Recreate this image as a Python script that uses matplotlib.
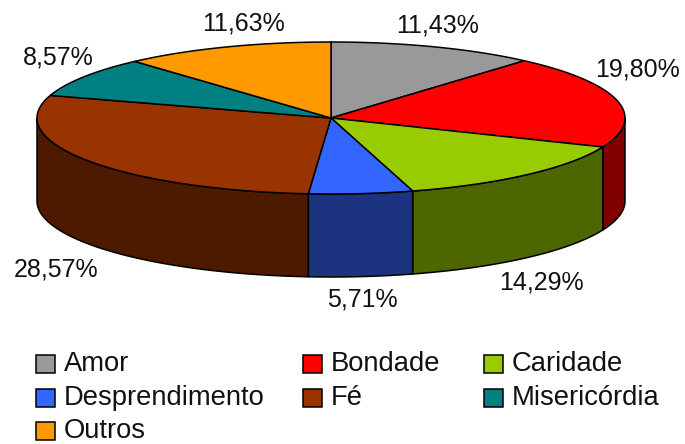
import numpy as np
import matplotlib
matplotlib.use('Agg')
from matplotlib import pyplot as plt
from matplotlib.patches import Polygon, Rectangle

plt.rcParams['font.family'] = ['Liberation Sans', 'DejaVu Sans']

# Data
categorias = ['Amor', 'Bondade', 'Caridade', 'Desprendimento', 'Fé', 'Misericórdia', 'Outros']
valores = [11.43, 19.80, 14.29, 5.71, 28.57, 8.57, 11.63]
rotulos = ['11,43%', '19,80%', '14,29%', '5,71%', '28,57%', '8,57%', '11,63%']
cores = ['#999999', '#FF0000', '#99CC00', '#3366FF', '#993300', '#008080', '#FF9900']
cores_lado = ['#4D4D4D', '#800000', '#4D6600', '#1C3380', '#4D1A00', '#004040', '#804D00']

# Geometry of the pie, in pixels
cx, cy = 331, 118
rx, ry = 294, 76
prof = 83

fig = plt.figure(figsize=(6.85, 4.44), dpi=100)
ax = fig.add_axes([0, 0, 1, 1])
ax.set_xlim(0, 685)
ax.set_ylim(444, 0)
ax.axis('off')


def arco(a0, a1, dy=0):
    t = np.radians(np.linspace(a0, a1, 120))
    return np.column_stack([cx + rx * np.sin(t), cy + dy - ry * np.cos(t)])


limites = np.concatenate([[0], np.cumsum(valores)]) / sum(valores) * 360

# Sides (only the front half of the rim is visible)
for i in range(len(valores)):
    a0, a1 = max(limites[i], 90), min(limites[i + 1], 270)
    if a1 <= a0:
        continue
    pts = np.vstack([arco(a0, a1), arco(a1, a0, prof)])
    ax.add_patch(Polygon(pts, closed=True, fc=cores_lado[i], ec='black', lw=1.1, zorder=2))

# Top
for i in range(len(valores)):
    pts = np.vstack([[cx, cy], arco(limites[i], limites[i + 1])])
    ax.add_patch(Polygon(pts, closed=True, fc=cores[i], ec='black', lw=1.1, zorder=3))

# Value labels
pos_rot = [(438, 25), (638, 70), (541, 282), (362, 299), (56, 269), (58, 57), (244, 24)]
for txt, (x, y) in zip(rotulos, pos_rot):
    ax.text(x, y, txt, fontsize=18, ha='center', va='center', color='#111111', zorder=4)

# Legend
pos_leg = [(36, 364), (303, 364), (484, 364), (36, 398), (303, 398), (484, 398), (36, 431)]
for nome, cor, (x, y) in zip(categorias, cores, pos_leg):
    ax.add_patch(Rectangle((x, y - 9), 19, 18, fc=cor, ec='black', lw=1.1, zorder=3))
    ax.text(x + 28, y, nome, fontsize=19.7, ha='left', va='center', color='#111111', zorder=4)

fig.savefig('out.png', dpi=100)
